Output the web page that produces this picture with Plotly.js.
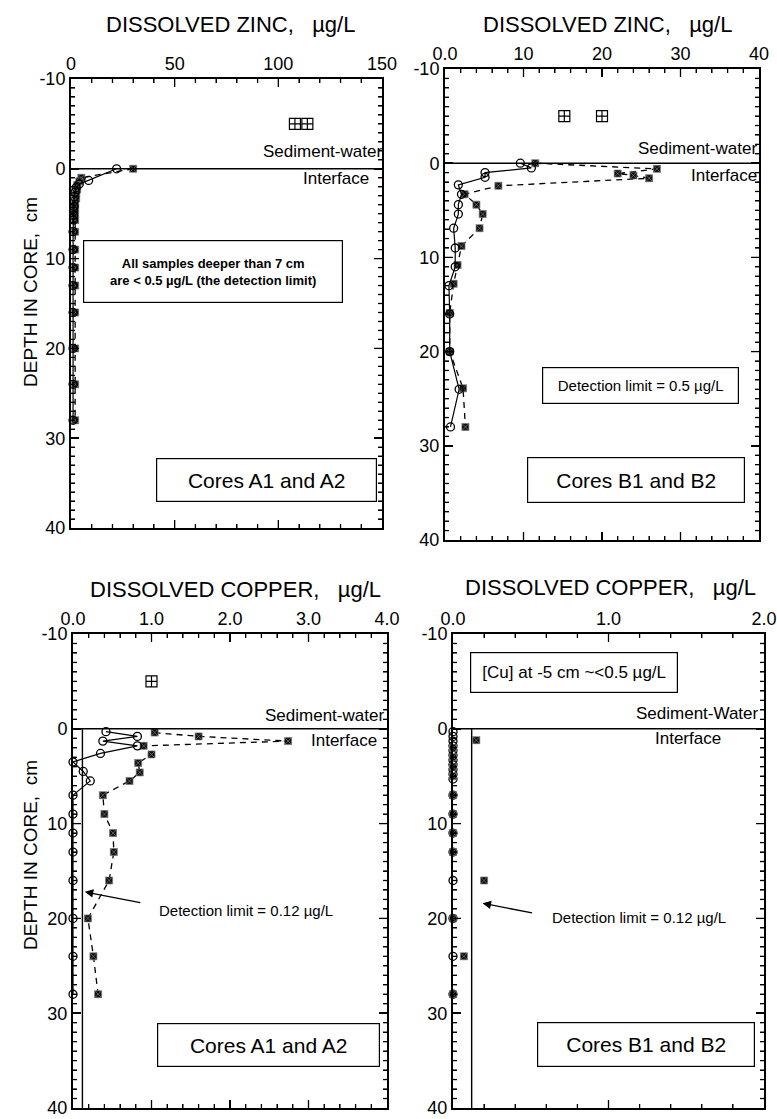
<!DOCTYPE html>
<html>
<head>
<meta charset="utf-8">
<script src="https://cdn.plot.ly/plotly-3.0.1.min.js"></script>
</head>
<body style="margin:0">
<div id="chart"></div>
<script>
// ---------- DATA ----------
// Dissolved zinc, cores A1 (circles) and A2 (squares), ug/L vs depth (cm)
const znA1Depth = [0, 1.3, 1.7, 2.1, 2.6, 3.1, 3.6, 4.2, 4.7, 5.2, 5.7, 7, 9, 11, 13, 16, 20, 24, 28];
const znA1      = [22, 8.5, 4, 2.5, 2, 1.5, 1.5, 1.5, 1.2, 1.2, 1.2, 1, 1, 1, 1, 1, 1, 1, 1];
const znA2Depth = [0, 1, 1.4, 1.8, 2.3, 2.8, 3.3, 3.8, 4.4, 5, 5.7, 7, 9, 11, 13, 16, 20, 24, 28];
const znA2      = [30, 5, 4, 3, 3, 2.5, 2.5, 2, 2, 2, 2, 2, 2, 2, 2, 2, 2, 2, 2];
const znAWater      = [108, 114];
const znAWaterDepth = [-5, -5];

// Dissolved zinc, cores B1 (circles) and B2 (squares)
const znB1Depth = [0, 0.5, 1, 1.5, 2.3, 3.3, 4.4, 5.4, 6.9, 9, 11, 13, 16, 20, 24, 28];
const znB1      = [9.6, 11, 5.1, 5.1, 1.7, 2.1, 1.7, 1.7, 1.1, 1.3, 1.3, 0.5, 0.6, 0.6, 1.8, 0.7];
const znB2Depth = [0, 0.6, 1.1, 1.3, 1.6, 2.4, 3.3, 4.4, 5.4, 6.9, 8.8, 10.8, 12.8, 15.9, 20, 23.9, 28];
const znB2      = [11.5, 27, 22, 24, 26, 6.8, 2.5, 4, 4.8, 4.4, 2.1, 1.6, 1.1, 0.6, 0.6, 2.3, 2.6];
const znBWater      = [15.2, 20];
const znBWaterDepth = [-5, -5];

// Dissolved copper, cores A1 (circles) and A2 (squares)
const cuA1Depth = [0.3, 0.8, 1.3, 1.8, 2.6, 3.5, 4.5, 5.5, 7, 9, 11, 13, 16, 20, 24, 28];
const cuA1      = [0.42, 0.82, 0.38, 0.82, 0.35, 0, 0.13, 0.22, 0, 0, 0, 0, 0, 0, 0, 0];
const cuA2Depth = [0.4, 0.8, 1.3, 1.8, 2.7, 3.6, 4.6, 5.5, 7, 9, 11, 13, 16, 20, 24, 28];
const cuA2      = [1.04, 1.6, 2.74, 0.9, 1.0, 0.83, 0.85, 0.72, 0.38, 0.4, 0.51, 0.52, 0.46, 0.19, 0.26, 0.32];
const cuAWater      = [1.0];
const cuAWaterDepth = [-5];

// Dissolved copper, cores B1 (circles) and B2 (squares)
const cuB1Depth = [0.3, 0.8, 1.3, 1.8, 2.3, 2.8, 3.3, 3.8, 4.3, 4.8, 5.3, 7, 9, 11, 13, 16, 20, 24, 28];
const cuB1      = [0, 0, 0, 0, 0, 0, 0, 0, 0, 0, 0, 0, 0, 0, 0, 0, 0, 0, 0];
const cuB2Depth = [1.2, 2, 3, 4, 5, 7, 9, 11, 13, 16, 20, 24, 28];
const cuB2      = [0.15, 0, 0, 0, 0, 0, 0, 0, 0, 0.2, 0, 0.07, 0];

const cuDetectionLimit = 0.12;
// axis ranges and tick steps
const depthRange = [40, -10], depthStep = 10, depthMinor = 1;
const znARange = [0, 150], znAStep = 50, znAMinor = 10;
const znBRange = [0, 40],  znBStep = 10, znBMinor = 2;
const cuARange = [0, 4],   cuAStep = 1,  cuAMinor = 0.2;
const cuBRange = [0, 2],   cuBStep = 1,  cuBMinor = 0.2;

// ---------- LAYOUT HELPERS ----------
const W = 777, H = 1119;
const FONT = 'Liberation Sans, Arial, Helvetica, sans-serif';
const px = x => x / W;
const py = y => 1 - y / H;

function baseAxis(step, minor, extra) {
  return Object.assign({
    tickmode: 'linear', tick0: 0, dtick: step,
    ticks: 'inside', ticklen: 8, tickwidth: 1.5, tickcolor: '#000',
    minor: {dtick: minor, ticks: 'inside', ticklen: 4, tickwidth: 1, tickcolor: '#000'},
    showline: true, linecolor: '#000', linewidth: 2, mirror: 'allticks',
    showgrid: false, zeroline: false,
    tickfont: {family: FONT, size: 18, color: '#000'}
  }, extra || {});
}
function xAxis(x0, x1, range, step, minor, anchor, extra) {
  return Object.assign(baseAxis(step, minor, extra), {domain: [px(x0), px(x1)], range: range, anchor: anchor, side: 'top'});
}
function yAxis(y0, y1, anchor) {
  return Object.assign(baseAxis(depthStep, depthMinor, {labelalias: {'\u221210': '-10'}}),
    {domain: [py(y1), py(y0)], range: depthRange, anchor: anchor});
}

// Tick marks on all four frame sides, built from each axis range and step
function tickShapes(xa, ya, xRange, xStep, xMinor, yRange, yStep, yMinor) {
  const out = [];
  const L = {color: '#000', width: 1.3};
  function steps(range, minor, step, cb) {
    const lo = Math.min(range[0], range[1]), hi = Math.max(range[0], range[1]);
    const n = Math.round((hi - lo) / minor);
    for (let i = 1; i < n; i++) {
      const v = lo + i * minor;
      const r = v / step;
      const major = Math.abs(r - Math.round(r)) < 1e-6;
      cb(v, major ? 8 : 4);
    }
  }
  steps(xRange, xMinor, xStep, (v, len) => {
    out.push({type: 'line', xref: xa, yref: ya + ' domain', x0: v, x1: v, ysizemode: 'pixel', yanchor: 1, y0: 0, y1: -len, line: L});
    out.push({type: 'line', xref: xa, yref: ya + ' domain', x0: v, x1: v, ysizemode: 'pixel', yanchor: 0, y0: 0, y1: len, line: L});
  });
  steps(yRange, yMinor, yStep, (v, len) => {
    out.push({type: 'line', xref: xa + ' domain', yref: ya, y0: v, y1: v, xsizemode: 'pixel', xanchor: 0, x0: 0, x1: len, line: L});
    out.push({type: 'line', xref: xa + ' domain', yref: ya, y0: v, y1: v, xsizemode: 'pixel', xanchor: 1, x0: 0, x1: -len, line: L});
  });
  return out;
}

const circ = {symbol: 'circle-open', size: 8, color: '#000', line: {width: 1.3, color: '#000'}};
const sq = {symbol: 'square-x', size: 7, color: '#111', line: {width: 0.7, color: '#777'}};
const water = {symbol: 'square-cross-open', size: 11, color: '#000', line: {width: 1.2, color: '#000'}};

function core1(x, y, xa, ya, mode) {
  return {x: x, y: y, xaxis: xa, yaxis: ya, type: 'scatter', mode: mode || 'lines+markers',
    line: {color: '#000', width: 1.2}, marker: circ, cliponaxis: false, hoverinfo: 'skip'};
}
function core2(x, y, xa, ya, mode) {
  return {x: x, y: y, xaxis: xa, yaxis: ya, type: 'scatter', mode: mode || 'lines+markers',
    line: {color: '#000', width: 1.3, dash: '6px,5px'}, marker: sq, cliponaxis: false, hoverinfo: 'skip'};
}
function waterPts(x, y, xa, ya) {
  return {x: x, y: y, xaxis: xa, yaxis: ya, type: 'scatter', mode: 'markers',
    marker: water, cliponaxis: false, hoverinfo: 'skip'};
}

const traces = [
  core2(znA2, znA2Depth, 'x', 'y'),
  core1(znA1, znA1Depth, 'x', 'y'),
  waterPts(znAWater, znAWaterDepth, 'x', 'y'),
  core2(znB2, znB2Depth, 'x2', 'y2'),
  core1(znB1, znB1Depth, 'x2', 'y2'),
  waterPts(znBWater, znBWaterDepth, 'x2', 'y2'),
  core2(cuA2, cuA2Depth, 'x3', 'y3'),
  core1(cuA1, cuA1Depth, 'x3', 'y3'),
  waterPts(cuAWater, cuAWaterDepth, 'x3', 'y3'),
  core1(cuB1, cuB1Depth, 'x4', 'y4', 'markers'),
  core2(cuB2, cuB2Depth, 'x4', 'y4', 'markers')
];

function txt(text, x, y, size, xanchor, extra) {
  return Object.assign({text: text, xref: 'paper', yref: 'paper', x: px(x), y: py(y),
    xanchor: xanchor || 'center', yanchor: 'middle', showarrow: false,
    font: {family: FONT, size: size, color: '#000'}}, extra || {});
}
function box(text, cx, cy, w, h, size) {
  return txt(text, cx, cy, size, 'center', {width: w - 2, height: h - 2, borderpad: 0,
    bordercolor: '#000', borderwidth: 1.2, bgcolor: '#fff', align: 'center', valign: 'middle'});
}
const NB = '\u00a0';
const annotations = [
  txt('DISSOLVED ZINC,' + NB + NB + NB + 'µg/L', 230, 24, 22),
  txt('DISSOLVED ZINC,' + NB + NB + NB + 'µg/L', 607, 24, 22),
  txt('DISSOLVED COPPER,' + NB + NB + NB + 'µg/L', 235, 589, 22),
  txt('DISSOLVED COPPER,' + NB + NB + NB + 'µg/L', 610, 587, 22),
  txt('DEPTH IN CORE,' + NB + NB + 'cm', 30, 292, 19, 'center', {textangle: -90}),
  txt('DEPTH IN CORE,' + NB + NB + 'cm', 30, 855, 19, 'center', {textangle: -90}),
  txt('Sediment-water', 384, 152, 17, 'right'),
  txt('Interface', 371, 178, 17, 'right'),
  txt('Sediment-water', 759, 148, 17, 'right'),
  txt('Interface', 759, 176, 17, 'right'),
  txt('Sediment-water', 386, 715, 17, 'right'),
  txt('Interface', 379, 740, 17, 'right'),
  txt('Sediment-Water', 761, 713, 17, 'right'),
  txt('Interface', 723, 738, 17, 'right'),
  box('<b>All samples deeper than 7 cm<br>are < 0.5 µg/L (the detection limit)</b>', 213, 271.5, 260, 63, 13),
  box('Cores A1 and A2', 266.5, 480, 221, 44, 21),
  box('Detection limit = 0.5 µg/L', 640.5, 385.5, 197, 37, 15),
  box('Cores B1 and B2', 636, 480, 218, 46, 21),
  box('Cores A1 and A2', 268.5, 1045, 223, 44, 21),
  box('[Cu] at -5 cm ~<0.5 µg/L', 574, 672.5, 208, 41, 17),
  box('Cores B1 and B2', 646, 1044.5, 218, 45, 21),
  txt('Detection limit = 0.12 µg/L', 157, 910, 15, 'left'),
  txt('Detection limit = 0.12 µg/L', 550, 917, 15, 'left'),
  {text: '', xref: 'x3', yref: 'y3', x: 0.15, y: 17.2, ax: 57, ay: 11, showarrow: true,
   arrowhead: 2, arrowsize: 1.3, arrowwidth: 1.3, arrowcolor: '#000', standoff: 0},
  {text: '', xref: 'x4', yref: 'y4', x: 0.19, y: 18.4, ax: 51, ay: 10, showarrow: true,
   arrowhead: 2, arrowsize: 1.3, arrowwidth: 1.3, arrowcolor: '#000', standoff: 0}
];

const shapes = [
  {type: 'line', xref: 'x', yref: 'y', x0: znARange[0], x1: znARange[1], y0: 0, y1: 0, line: {color: '#000', width: 1.6}},
  {type: 'line', xref: 'x2', yref: 'y2', x0: znBRange[0], x1: znBRange[1], y0: 0, y1: 0, line: {color: '#000', width: 1.6}},
  {type: 'line', xref: 'x3', yref: 'y3', x0: cuARange[0], x1: cuARange[1], y0: 0, y1: 0, line: {color: '#000', width: 1.6}},
  {type: 'line', xref: 'x4', yref: 'y4', x0: cuBRange[0], x1: cuBRange[1], y0: 0, y1: 0, line: {color: '#000', width: 1.6}},
  {type: 'line', xref: 'x3', yref: 'y3', x0: cuDetectionLimit, x1: cuDetectionLimit, y0: 0, y1: 40, line: {color: '#000', width: 1.4}},
  {type: 'line', xref: 'x4', yref: 'y4', x0: cuDetectionLimit, x1: cuDetectionLimit, y0: 0, y1: 40, line: {color: '#000', width: 1.4}}
].concat(
  tickShapes('x', 'y', znARange, znAStep, znAMinor, depthRange, depthStep, depthMinor),
  tickShapes('x2', 'y2', znBRange, znBStep, znBMinor, depthRange, depthStep, depthMinor),
  tickShapes('x3', 'y3', cuARange, cuAStep, cuAMinor, depthRange, depthStep, depthMinor),
  tickShapes('x4', 'y4', cuBRange, cuBStep, cuBMinor, depthRange, depthStep, depthMinor)
);

const layout = {
  width: W, height: H, margin: {l: 0, r: 0, t: 0, b: 0}, showlegend: false,
  font: {family: FONT, color: '#000'},
  xaxis: xAxis(71, 382, znARange, znAStep, znAMinor, 'y'),
  yaxis: yAxis(79, 528, 'x'),
  xaxis2: xAxis(445, 759, znBRange, znBStep, znBMinor, 'y2', {labelalias: {'0': '0.0'}}),
  yaxis2: yAxis(69, 540, 'x2'),
  xaxis3: xAxis(73, 387, cuARange, cuAStep, cuAMinor, 'y3', {tickformat: '.1f'}),
  yaxis3: yAxis(634, 1108, 'x3'),
  xaxis4: xAxis(453, 764, cuBRange, cuBStep, cuBMinor, 'y4', {tickformat: '.1f'}),
  yaxis4: yAxis(634, 1108, 'x4'),
  annotations: annotations, shapes: shapes
};

Plotly.newPlot('chart', traces, layout, {staticPlot: true, displayModeBar: false});
</script>
</body>
</html>
